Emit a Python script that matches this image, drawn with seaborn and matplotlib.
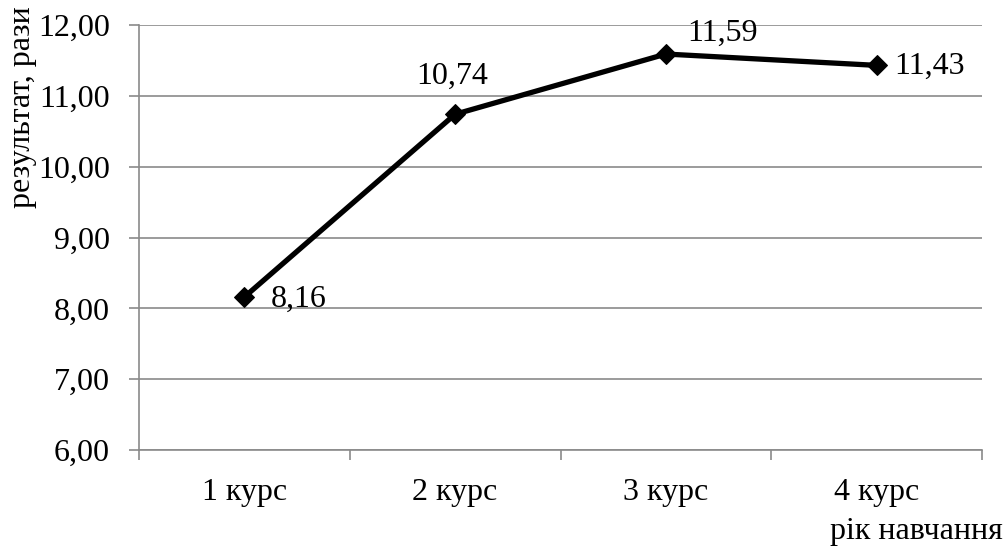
import matplotlib
matplotlib.use("Agg")
import matplotlib.pyplot as plt
import seaborn as sns
import pandas as pd
from matplotlib.ticker import FixedLocator, FuncFormatter

# Average result by year of study
courses = ["1 курс", "2 курс", "3 курс", "4 курс"]
results = [8.16, 10.74, 11.59, 11.43]
value_labels = ["8,16", "10,74", "11,59", "11,43"]
y_ticks = [6, 7, 8, 9, 10, 11, 12]

sns.set_theme(style="white")
plt.rcParams["font.family"] = ["Liberation Serif", "DejaVu Serif"]

df = pd.DataFrame({"course": courses, "result": results})

fig = plt.figure(figsize=(10.07, 5.49), dpi=100)
ax = fig.add_axes([139 / 1007, 1 - 450 / 549, (982 - 139) / 1007, (450 - 25) / 549])

grid_color = "#8a8a8a"
fs = 23

sns.lineplot(data=df, x="course", y="result", ax=ax, color="black",
             linewidth=3.8, marker="D", markersize=10.5, markeredgecolor="black",
             sort=False, zorder=3)

ax.set_xlim(-0.5, len(courses) - 0.5)
ax.set_ylim(min(y_ticks), max(y_ticks))
ax.set_yticks(y_ticks)
ax.yaxis.set_major_formatter(FuncFormatter(lambda v, p: f"{v:.2f}".replace(".", ",")))
ax.yaxis.grid(True, color=grid_color, linewidth=1.2)
ax.set_axisbelow(True)

# category labels centred, tick marks on category boundaries
ax.set_xticks(range(len(courses)))
ax.set_xticklabels(courses)
ax.xaxis.set_minor_locator(FixedLocator([i - 0.5 for i in range(len(courses) + 1)]))
ax.tick_params(axis="x", which="major", length=0, pad=20, labelsize=fs, colors="black")
ax.tick_params(axis="x", which="minor", bottom=True, length=7, width=1.2, color=grid_color)
ax.tick_params(axis="y", which="major", left=True, length=7, width=1.2, color=grid_color,
               pad=14, labelsize=fs, labelcolor="black")

for side in ["top", "right"]:
    ax.spines[side].set_visible(False)
for side in ["left", "bottom"]:
    ax.spines[side].set_color(grid_color)
    ax.spines[side].set_linewidth(1.2)

ax.set_xlabel("")
ax.set_ylabel("")

# value labels next to each point
offsets = [(19, -2), (-2, 27), (41, 15), (13, -1)]
aligns = ["left", "center", "center", "left"]
for i, (val, txt) in enumerate(zip(results, value_labels)):
    ax.annotate(txt, (i, val), xytext=offsets[i], textcoords="offset points",
                ha=aligns[i], va="center", fontsize=fs, color="black")

fig.text(23 / 1007, 1 - 107 / 549, "результат, рази", rotation=90,
         ha="center", va="center", fontsize=fs, color="black")
fig.text(1003 / 1007, 1 - 532 / 549, "рік навчання",
         ha="right", va="center", fontsize=fs, color="black")

fig.savefig("out.png", dpi=100)
